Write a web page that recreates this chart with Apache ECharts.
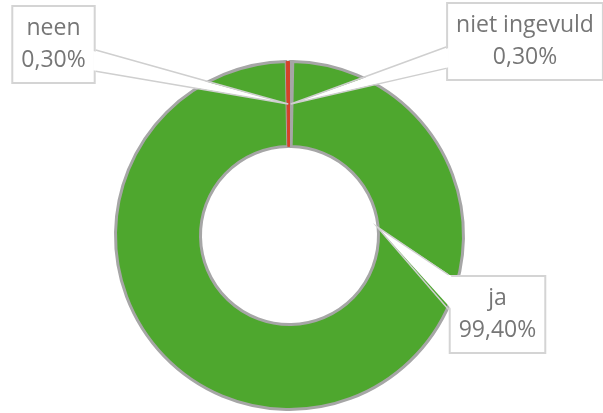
<!DOCTYPE html>
<html>
<head>
<meta charset="utf-8">
<script src="https://cdn.jsdelivr.net/npm/echarts@6/dist/echarts.min.js"></script>
<style>
html, body { margin: 0; padding: 0; background: #fff; }
#main { width: 603px; height: 413px; }
</style>
</head>
<body>
<div id="main"></div>
<script>
// data (clockwise from 12 o'clock)
var categories = ['niet ingevuld', 'ja', 'neen'];
var values = [0.3, 99.4, 0.3];
var colors = ['#a5a5a5', '#4ea72e', '#d4432a'];
var sliceBorders = ['#a6a6a6', '#a6a6a6', '#d4432a'];

// label box centres + callout wedge settings (layout only)
var labelPos = [[525, 41.5], [497.5, 314.5], [53.5, 44.5]];
var callouts = [
    { side: 'left', f: [0.57, 0.84], anchor: null },
    { side: 'left', f: [0, 0.44], anchor: [84.3, 88] },
    { side: 'right', f: [0.57, 0.84], anchor: null }
];
var center = [289.5, 235.5], radius = [89, 174];
var boxes = [];

var chart = echarts.init(document.getElementById('main'));

function fmtPct(v) {
    return v.toFixed(2).replace('.', ',') + '%';
}

var option = {
    animation: false,
    series: [{
        type: 'pie',
        center: center,
        radius: radius,
        startAngle: 90,
        clockwise: true,
        avoidLabelOverlap: false,
        minAngle: 0,
        data: categories.map(function (c, i) {
            return {
                name: c, value: values[i],
                itemStyle: {
                    color: colors[i],
                    borderColor: sliceBorders[i],
                    borderWidth: i === 2 ? 1 : 3
                }
            };
        }),
        label: {
            show: true,
            position: 'outside',
            formatter: function (p) { return p.name + '\n' + fmtPct(p.value); },
            fontFamily: 'Open Sans',
            fontSize: 23,
            lineHeight: 32,
            color: '#767676',
            align: 'center',
            backgroundColor: '#fff',
            borderColor: '#d4d4d4',
            borderWidth: 2,
            padding: [11, 8, 0, 8]
        },
        labelLine: { show: false },
        emphasis: { disabled: true },
        labelLayout: function (p) {
            var pos = labelPos[p.dataIndex];
            var w = p.labelRect.width, h = p.labelRect.height;
            boxes[p.dataIndex] = { x: pos[0] - w / 2, y: pos[1] - h / 2, w: w, h: h };
            return { x: pos[0], y: pos[1], align: 'center', verticalAlign: 'middle' };
        }
    }]
};
chart.setOption(option);

// callout wedges from the label boxes to the ring
function buildCallouts() {
    var total = values.reduce(function (a, b) { return a + b; }, 0);
    var cum = 0, els = [];
    values.forEach(function (v, i) {
        var c = callouts[i], ang, r;
        if (c.anchor) {
            ang = c.anchor[0]; r = c.anchor[1];
        } else {
            ang = (cum + v / 2) / total * 360;
            r = (radius[0] + radius[1]) / 2;
        }
        cum += v;
        var t = ang * Math.PI / 180;
        var A = [center[0] + r * Math.sin(t), center[1] - r * Math.cos(t)];
        var b = boxes[i];
        if (!b) return;
        var ex = c.side === 'left' ? b.x : b.x + b.w;
        var inset = c.side === 'left' ? 2.5 : -2.5;
        var B1 = [ex, b.y + b.h * c.f[0]], B2 = [ex, b.y + b.h * c.f[1]];
        els.push({
            type: 'polygon', z: 100, silent: true,
            shape: { points: [[ex + inset, B1[1] + 1], A, [ex + inset, B2[1] - 1]] },
            style: { fill: '#fff', stroke: null }
        });
        els.push({
            type: 'polyline', z: 101, silent: true,
            shape: { points: [B1, A, B2] },
            style: { stroke: '#cfcfcf', lineWidth: 1.5, fill: null }
        });
    });
    return els;
}
chart.setOption({ graphic: buildCallouts() });
</script>
</body>
</html>
